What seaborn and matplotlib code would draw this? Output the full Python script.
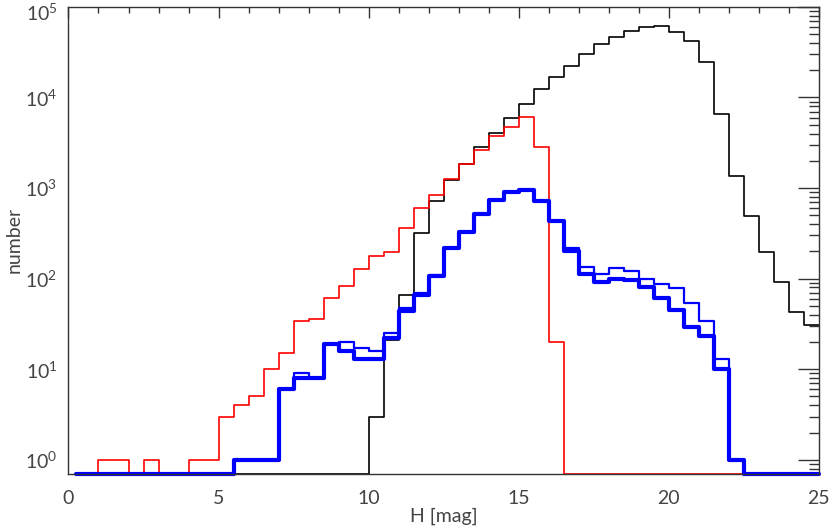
import numpy as np
import pandas as pd
import matplotlib
matplotlib.use("Agg")
import matplotlib.pyplot as plt
import matplotlib.transforms as mtransforms
import seaborn as sns
from matplotlib.ticker import LogLocator, MultipleLocator, FixedLocator, NullFormatter

# bin centers (0.5 mag bins from 0 to 25)
bin_centers = [0.25 + 0.5 * k for k in range(50)]

black_counts = [0] * 20 + [3, 21, 66, 315, 725, 1240, 1850, 2830, 4040, 5900,
                           8500, 12300, 17000, 22300, 30000, 38700, 47000, 54300, 60600, 62200,
                           52600, 42200, 24500, 6540, 1364, 497, 199, 91, 43, 31]

red_counts = [0, 0, 1, 1, 0, 1, 0, 0, 1, 1,
              3, 4, 5, 10, 15, 34, 36, 61, 82, 127,
              179, 196, 366, 600, 841, 1250, 1820, 2630, 3770, 4780,
              6050, 2870, 20] + [0] * 17

blue_thin_counts = [0] * 11 + [1, 1, 1, 6, 9, 8, 19, 20, 17,
                               16, 25, 48, 70, 110, 220, 325, 517, 741, 901,
                               955, 725, 434, 217, 136, 113, 131, 120, 99, 88,
                               78, 54, 34, 13, 1] + [0] * 5

blue_thick_counts = [0] * 11 + [1, 1, 1, 6, 8, 8, 19, 16, 13,
                                13, 22, 44, 66, 106, 220, 325, 517, 741, 901,
                                955, 725, 434, 204, 113, 91, 100, 97, 80, 61,
                                45, 29, 23, 10, 1] + [0] * 5

x_ticks = [0, 5, 10, 15, 20, 25]
y_major = [1, 10, 100, 1000, 10000, 100000]
y_labels = ["$10^{0}$", "$10^{1}$", "$10^{2}$", "$10^{3}$", "$10^{4}$", "$10^{5}$"]

YMIN, YMAX = 0.7, 1e5
XMIN, XMAX = 0, 25

sns.set_style("white")
plt.rcParams["font.family"] = ["Lato", "DejaVu Sans"]
plt.rcParams["mathtext.default"] = "regular"

fig = plt.figure(figsize=(8.3, 5.3), dpi=100)
ax = fig.add_axes([0.0825, 0.106, 0.904, 0.881])

text_col = "#444444"
axis_col = "#333333"


def series_frame(counts):
    x = list(bin_centers) + [XMAX]
    y = list(counts) + [counts[-1]]
    y = [v if v > 0 else YMIN for v in y]
    return pd.DataFrame({"x": x, "y": y})


series = [
    (black_counts, "black", 1.2),
    (red_counts, "#ff0000", 1.2),
    (blue_thin_counts, "#0000ff", 1.6),
    (blue_thick_counts, "#0000ff", 3.0),
]
for counts, col, lw in series:
    df = series_frame(counts)
    sns.lineplot(data=df, x="x", y="y", ax=ax, color=col, linewidth=lw,
                 drawstyle="steps-mid", estimator=None, sort=False,
                 clip_on=False)

ax.set_yscale("log")
ax.set_xlim(XMIN, XMAX)
ax.set_ylim(YMIN, YMAX)

ax.xaxis.set_major_locator(FixedLocator(x_ticks))
ax.xaxis.set_minor_locator(MultipleLocator(1))
ax.set_xticklabels([str(t) for t in x_ticks])

ax.yaxis.set_major_locator(FixedLocator(y_major))
ax.set_yticklabels(y_labels)
ax.yaxis.set_minor_locator(LogLocator(base=10, subs=np.arange(2, 10), numticks=20))
ax.yaxis.set_minor_formatter(NullFormatter())

for s in ax.spines.values():
    s.set_visible(True)
    s.set_color(axis_col)
    s.set_linewidth(1.0)

ax.tick_params(axis="both", which="both", direction="in", top=True, right=True,
               color=axis_col, labelcolor=text_col, labelsize=14)
ax.tick_params(axis="x", which="major", length=8, width=1, pad=12)
ax.tick_params(axis="x", which="minor", length=4, width=1)
ax.tick_params(axis="y", which="major", length=15, width=1, pad=8)
ax.tick_params(axis="y", which="minor", length=7, width=1)

ax.set_xlabel("H [mag]", color=text_col, fontsize=14, labelpad=0)
ax.set_ylabel("number", color=text_col, fontsize=14, labelpad=2)

# nudge the top label down so it stays inside the figure
top_lbl = ax.get_yticklabels()[-1]
top_lbl.set_transform(top_lbl.get_transform() +
                      mtransforms.ScaledTranslation(0, -5 / 100, fig.dpi_scale_trans))

fig.savefig("out.png", dpi=100)
